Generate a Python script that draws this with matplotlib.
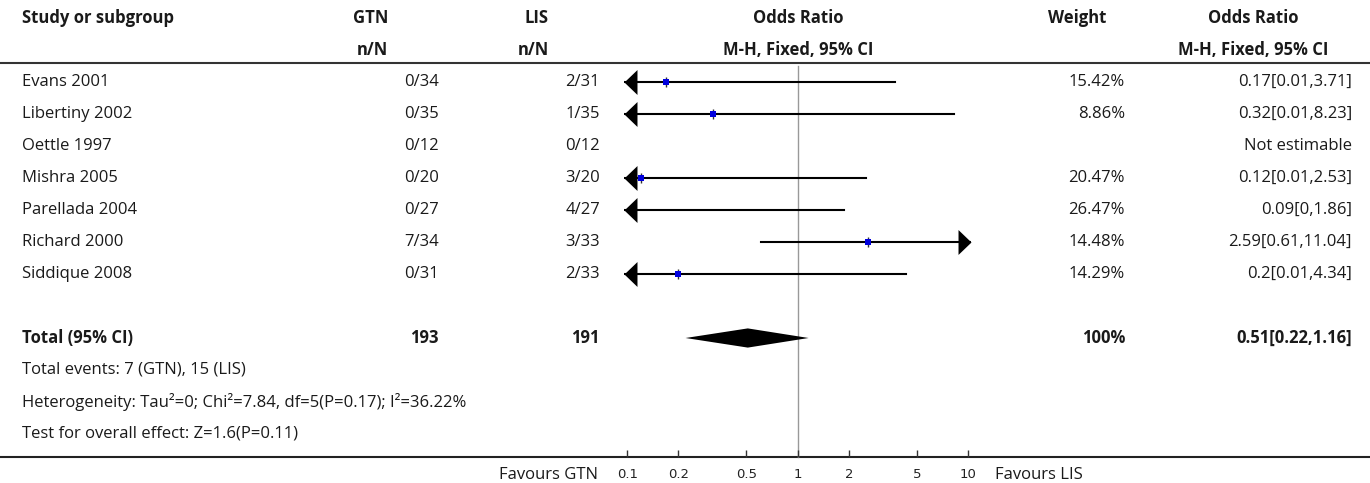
import numpy as np
import matplotlib
matplotlib.use("Agg")
from matplotlib import pyplot as plt

plt.rcParams["font.family"] = ["Open Sans", "DejaVu Sans"]

# study rows
studies = ["Evans 2001", "Libertiny 2002", "Oettle 1997", "Mishra 2005",
           "Parellada 2004", "Richard 2000", "Siddique 2008"]
gtn_nN = ["0/34", "0/35", "0/12", "0/20", "0/27", "7/34", "0/31"]
lis_nN = ["2/31", "1/35", "0/12", "3/20", "4/27", "3/33", "2/33"]
weights = ["15.42%", "8.86%", "", "20.47%", "26.47%", "14.48%", "14.29%"]
or_est = [0.17, 0.32, np.nan, 0.12, 0.09, 2.59, 0.2]
or_lo = [0.01, 0.01, np.nan, 0.01, 0.0, 0.61, 0.01]
or_hi = [3.71, 8.23, np.nan, 2.53, 1.86, 11.04, 4.34]
or_text = ["0.17[0.01,3.71]", "0.32[0.01,8.23]", "Not estimable",
           "0.12[0.01,2.53]", "0.09[0,1.86]", "2.59[0.61,11.04]", "0.2[0.01,4.34]"]

# pooled result
total_gtn = "193"
total_lis = "191"
total_weight = "100%"
total_est, total_lo, total_hi = 0.51, 0.22, 1.16
total_text = "0.51[0.22,1.16]"
footer = ["Total events: 7 (GTN), 15 (LIS)",
          "Heterogeneity: Tau\u00b2=0; Chi\u00b2=7.84, df=5(P=0.17); I\u00b2=36.22%",
          "Test for overall effect: Z=1.6(P=0.11)"]

ticks = [0.1, 0.2, 0.5, 1, 2, 5, 10]
tick_labels = ["0.1", "0.2", "0.5", "1", "2", "5", "10"]
x_range = (0.0958, 10.4)

W, H = 1370, 483
fig = plt.figure(figsize=(W / 100, H / 100), dpi=100)
ylim = (12.53125, -2.5625)  # rows are 32px apart, first study row at 82px

tab = fig.add_axes([0, 0, 1, 1])
tab.set_xlim(0, W)
tab.set_ylim(*ylim)
tab.axis("off")

ax = fig.add_axes([624 / W, 0, 347 / W, 1])
ax.set_xscale("log")
ax.set_xlim(*x_range)
ax.set_ylim(*ylim)
ax.patch.set_visible(False)
for s in ax.spines.values():
    s.set_visible(False)
ax.spines["bottom"].set_position(("data", 11.72))
ax.set_xticks(ticks, tick_labels, fontsize=9.5, fontfamily="DejaVu Sans",
              color="#222222")
ax.xaxis.set_minor_locator(matplotlib.ticker.NullLocator())
ax.tick_params(axis="x", direction="in", length=5, width=1, color="#333333",
               pad=8)
ax.set_yticks([])

txt = "#1a1a1a"
fs = 12

# header
hdr = dict(fontsize=fs, fontweight="bold", color=txt, va="center")
tab.text(22, -2, "Study or subgroup", ha="left", **hdr)
tab.text(388, -2, "GTN", ha="right", **hdr)
tab.text(388, -1, "n/N", ha="right", **hdr)
tab.text(549, -2, "LIS", ha="right", **hdr)
tab.text(549, -1, "n/N", ha="right", **hdr)
tab.text(798, -2, "Odds Ratio", ha="center", **hdr)
tab.text(798, -1, "M-H, Fixed, 95% CI", ha="center", **hdr)
tab.text(1077, -2, "Weight", ha="center", **hdr)
tab.text(1253, -2, "Odds Ratio", ha="center", **hdr)
tab.text(1253, -1, "M-H, Fixed, 95% CI", ha="center", **hdr)
tab.axhline(-0.6, color="#333333", lw=1.5)
tab.axhline(11.72, color="#222222", lw=1.5)

body = dict(fontsize=fs, color=txt, va="center")
for i, name in enumerate(studies):
    tab.text(22, i, name, ha="left", **body)
    tab.text(439, i, gtn_nN[i], ha="right", **body)
    tab.text(600, i, lis_nN[i], ha="right", **body)
    tab.text(1125, i, weights[i], ha="right", **body)
    tab.text(1352, i, or_text[i], ha="right", **body)

tot = 8
tab.text(22, tot, "Total (95% CI)", ha="left", fontweight="bold", **body)
tab.text(439, tot, total_gtn, ha="right", fontweight="bold", **body)
tab.text(600, tot, total_lis, ha="right", fontweight="bold", **body)
tab.text(1125, tot, total_weight, ha="right", fontweight="bold", **body)
tab.text(1352, tot, total_text, ha="right", fontweight="bold", **body)
for j, line in enumerate(footer):
    tab.text(22, tot + 1 + j, line, ha="left", **body)

tab.text(598, 12.28, "Favours GTN", ha="right", **body)
tab.text(995, 12.28, "Favours LIS", ha="left", **body)

# forest
ax.plot([1, 1], [-0.5, 11.72], color="#999999", lw=1, zorder=1)
left_arrow = [(0, 0), (1, 0.96), (1, -0.96)]
right_arrow = [(0, 0), (-1, 0.96), (-1, -0.96)]
lo_lim, hi_lim = ax.get_xlim()
for i in range(len(studies)):
    if np.isnan(or_est[i]):
        continue
    a = max(or_lo[i], lo_lim)
    b = min(or_hi[i], hi_lim)
    ax.plot([a, b], [i, i], color="black", lw=1.5, zorder=2)
    if or_lo[i] < lo_lim:
        ax.plot(lo_lim, i, marker=left_arrow, ms=18.7, color="black",
                mew=0, zorder=3, clip_on=False)
    if or_hi[i] > hi_lim:
        ax.plot(hi_lim, i, marker=right_arrow, ms=18.7, color="black",
                mew=0, zorder=3, clip_on=False)
    ax.plot(or_est[i], i, marker="|", ms=6.5, color="#333333", mew=1, zorder=4)
    ax.plot(or_est[i], i, marker="s", ms=4, color="#0000dd", mew=0, zorder=5)

h = 0.3
ax.fill([total_lo, total_est, total_hi, total_est],
        [tot, tot - h, tot, tot + h], color="black", lw=0, zorder=3)

fig.savefig("out.png", dpi=100)
